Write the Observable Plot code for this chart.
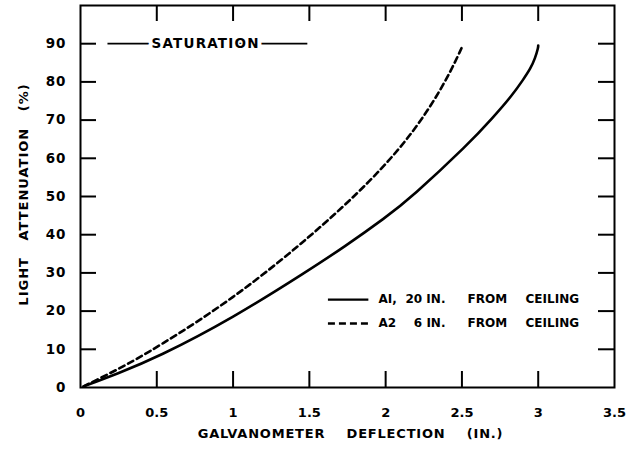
<!DOCTYPE html>
<html><head><meta charset="utf-8">
<script src="https://cdn.jsdelivr.net/npm/d3@7"></script>
<script src="https://cdn.jsdelivr.net/npm/@observablehq/plot@0.6"></script>
<style>
html,body{margin:0;padding:0;background:#fff;}
svg text{white-space:pre;}
g[aria-label="y-axis tick label"]{letter-spacing:1px;}
</style></head><body><div id="chart"></div>
<script>
// ---- data ----
const a1X = [0.02, 0.24, 0.5, 1.0, 1.5, 1.725, 2.0, 2.17, 2.545, 2.7, 2.83, 2.9, 2.95, 2.98, 3.0, 3.0];
const a1Y = [0.3, 3.6, 7.8, 18.2, 30.8, 36.7, 44.5, 49.8, 63.8, 70.5, 76.5, 80.5, 83.5, 86.2, 89.0, 89.5];
const a2X = [0.02, 0.02, 0.24, 0.5, 1.0, 1.5, 1.91, 2.195, 2.40, 2.505, 2.505];
const a2Y = [0.3, 0.3, 4.6, 10.4, 23.2, 39.2, 54.2, 67.3, 80.4, 89.5, 89.5];
const xTicks = [0, 0.5, 1, 1.5, 2, 2.5, 3, 3.5];
const xTickLabels = ["0", "0.5", "1", "1.5", "2", "2.5", "3", "3.5"];
const yTicks = [0, 10, 20, 30, 40, 50, 60, 70, 80, 90];
const yTickLabels = ["0", "10", "20", "30", "40", "50", "60", "70", "80", "90"];
const xTitle = "GALVANOMETER    DEFLECTION    (IN.)";
const yTitle = "LIGHT   ATTENUATION   (%)";
const saturationLabel = "SATURATION";
const saturationLevel = 90;
const legendName = ["AI,", "A2"];
const legendDist = ["20 IN.", "6 IN."];
const legendFrom = ["FROM", "FROM"];
const legendCeil = ["CEILING", "CEILING"];

// ---- layout ----
const W = 626, H = 452, mL = 80, mR = 12, mT = 5, mB = 65;
const innerW = W - mL - mR, innerH = H - mT - mB, tickLen = 16;
const L = {
  satX1: 0.18, satX2: 1.49, satTextX: 0.82,
  legLineX1: 1.625, legLineX2: 1.89, legY: [23, 16.75],
  colName: 1.953, colDistEnd: 2.392, colFrom: 2.537, colCeil: 2.917
};
const spacing = [[xTitle, "0.8px"], [yTitle, "1px"], [saturationLabel, "1.2px"]];

const a1 = a1X.map((x, i) => ({x, y: a1Y[i]}));
const a2 = a2X.map((x, i) => ({x, y: a2Y[i]}));
const xInner = xTicks.filter(d => d > 0 && d < 3.5);
const yInner = yTicks.filter(d => d > 0);
const legend = legendName.map((n, i) => ({name: n, dist: legendDist[i], from: legendFrom[i], ceil: legendCeil[i], y: L.legY[i]}));
const legFont = {fontSize: 12, fontWeight: "bold"};

const chart = Plot.plot({
  width: W, height: H,
  marginLeft: mL, marginRight: mR, marginTop: mT, marginBottom: mB,
  style: {fontFamily: "DejaVu Sans", fontWeight: "bold", background: "#fff", color: "#000"},
  x: {domain: [0, 3.5]},
  y: {domain: [0, 100]},
  marks: [
    Plot.frame({stroke: "#000", strokeWidth: 2}),
    Plot.tickX(xInner, {x: d => d, insetTop: innerH - tickLen, strokeWidth: 2}),
    Plot.tickX(xInner, {x: d => d, insetBottom: innerH - tickLen, strokeWidth: 2}),
    Plot.tickY(yInner, {y: d => d, insetRight: innerW - tickLen, strokeWidth: 2}),
    Plot.tickY(yInner, {y: d => d, insetLeft: innerW - tickLen, strokeWidth: 2}),
    Plot.axisX({ticks: xTicks, tickSize: 0, tickPadding: 20, fontSize: 13, label: null,
      tickFormat: d => xTickLabels[xTicks.indexOf(d)]}),
    Plot.axisY({ticks: yTicks, tickSize: 0, tickPadding: 14, fontSize: 13.5, label: null,
      tickFormat: d => yTickLabels[yTicks.indexOf(d)]}),
    Plot.text([xTitle], {frameAnchor: "bottom", lineAnchor: "middle", textAnchor: "middle", dy: 46, dx: 3,
      text: d => d, fontSize: 13, fontWeight: "bold"}),
    Plot.text([yTitle], {frameAnchor: "left", textAnchor: "middle", lineAnchor: "middle", dx: -57, dy: -2, rotate: -90,
      text: d => d, fontSize: 13, fontWeight: "bold"}),
    // saturation annotation
    Plot.ruleY([saturationLevel], {x1: L.satX1, x2: L.satX2, strokeWidth: 1.8}),
    Plot.text([saturationLabel], {x: L.satTextX, y: saturationLevel, text: d => d, fill: "#000", stroke: "#fff",
      strokeWidth: 8, fontSize: 13.5, fontWeight: "bold"}),
    // curves
    Plot.line(a1, {x: "x", y: "y", curve: "basis", strokeWidth: 2.6}),
    Plot.line(a2, {x: "x", y: "y", curve: "basis", strokeWidth: 2.6, strokeDasharray: "6,4"}),
    // legend
    Plot.ruleY([legend[0]], {y: "y", x1: L.legLineX1, x2: L.legLineX2, strokeWidth: 2.4}),
    Plot.ruleY([legend[1]], {y: "y", x1: L.legLineX1, x2: L.legLineX2, strokeWidth: 2.4, strokeDasharray: "7,4"}),
    Plot.text(legend, {x: L.colName, y: "y", text: "name", textAnchor: "start", ...legFont}),
    Plot.text(legend, {x: L.colDistEnd, y: "y", text: "dist", textAnchor: "end", ...legFont}),
    Plot.text(legend, {x: L.colFrom, y: "y", text: "from", textAnchor: "start", ...legFont}),
    Plot.text(legend, {x: L.colCeil, y: "y", text: "ceil", textAnchor: "start", ...legFont})
  ]
});
d3.select(chart).selectAll("text").each(function () {
  const hit = spacing.find(([t]) => t === this.textContent);
  if (hit) this.style.letterSpacing = hit[1];
});
document.getElementById("chart").appendChild(chart);
</script></body></html>
